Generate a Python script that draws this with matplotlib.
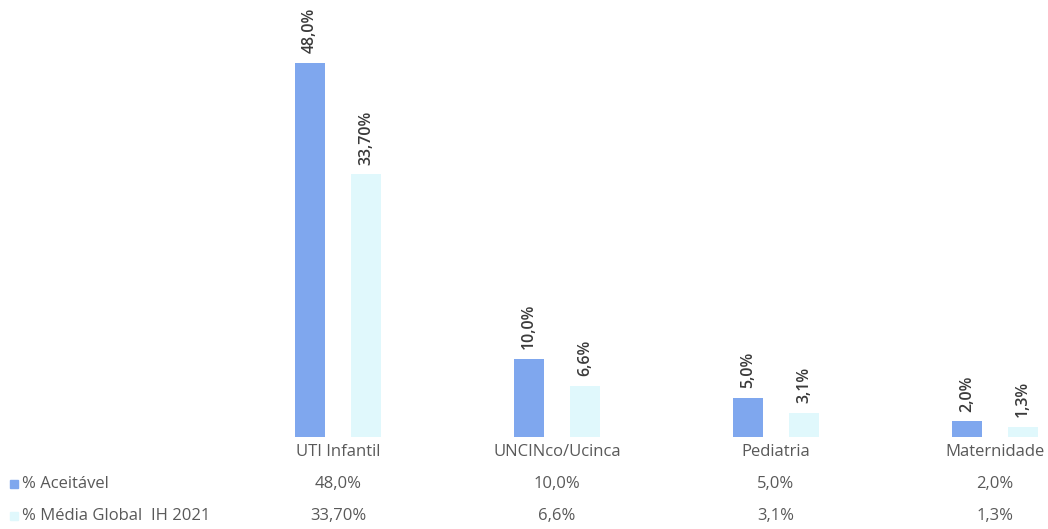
import matplotlib
matplotlib.use("Agg")
from matplotlib import pyplot as plt
from matplotlib import transforms
from matplotlib.patches import Rectangle

categorias = ['UTI Infantil', 'UNCINco/Ucinca', 'Pediatria', 'Maternidade']
aceitavel = [48.0, 10.0, 5.0, 2.0]
media_global = [33.70, 6.6, 3.1, 1.3]
rotulos_aceitavel = ['48,0%', '10,0%', '5,0%', '2,0%']
rotulos_media = ['33,70%', '6,6%', '3,1%', '1,3%']
series = ['% Aceitável', '% Média Global  IH 2021']

cor1 = '#7fa7ee'
cor2 = '#e0f8fc'
cinza = '#595959'

plt.rcParams['font.family'] = ['Open Sans', 'DejaVu Sans']

W, H = 1048, 529
fig = plt.figure(figsize=(W / 100, H / 100), dpi=100)
ax = fig.add_axes([229 / W, (H - 437) / H, 819 / W, 437 / H])
ax.set_xlim(-0.498, 3.242)
ax.set_ylim(0, 56.1)
ax.axis('off')

x = list(range(len(categorias)))
desl = 0.128
larg = 0.137
b1 = ax.bar([i - desl for i in x], aceitavel, width=larg, color=cor1)
b2 = ax.bar([i + desl for i in x], media_global, width=larg, color=cor2)

for barras, rotulos in ((b1, rotulos_aceitavel), (b2, rotulos_media)):
    for b, r in zip(barras, rotulos):
        ax.annotate(r, (b.get_x() + b.get_width() / 2, b.get_height()),
                    xytext=(0, 7), textcoords='offset points',
                    rotation=90, ha='center', va='bottom',
                    fontsize=11.5, fontweight='semibold', color='#3a3a3a')

# tabela de dados
tr = transforms.blended_transform_factory(ax.transData, fig.transFigure)
linhas_y = [452, 484, 516]
for i, c in enumerate(categorias):
    ax.text(i, 1 - linhas_y[0] / H, c, transform=tr, ha='center', va='center',
            fontsize=12, color=cinza, clip_on=False)
    ax.text(i, 1 - linhas_y[1] / H, rotulos_aceitavel[i], transform=tr,
            ha='center', va='center', fontsize=12, color=cinza, clip_on=False)
    ax.text(i, 1 - linhas_y[2] / H, rotulos_media[i], transform=tr,
            ha='center', va='center', fontsize=12, color=cinza, clip_on=False)

for nome, cor, py in ((series[0], cor1, linhas_y[1]), (series[1], cor2, linhas_y[2])):
    fig.patches.append(Rectangle((10 / W, 1 - (py + 4) / H), 8 / W, 8 / H,
                                 transform=fig.transFigure, color=cor))
    fig.text(22 / W, 1 - py / H, nome, ha='left', va='center',
             fontsize=12, color=cinza)

fig.savefig('out.png', dpi=100, facecolor='white')
